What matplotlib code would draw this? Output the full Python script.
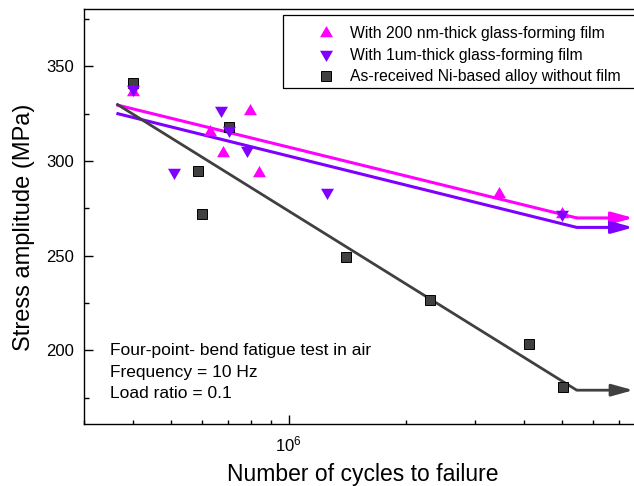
import matplotlib
matplotlib.use('Agg')
import matplotlib.pyplot as plt
from matplotlib.ticker import LogLocator, MultipleLocator, NullFormatter
from matplotlib.patches import Rectangle

# =======================
# data
# =======================
cycles_200nm = [4.0e5, 6.3e5, 6.8e5, 7.95e5, 8.4e5, 3.45e6, 5.0e6]
stress_200nm = [336.5, 315.4, 304.4, 326.5, 293.5, 282.4, 271.8]

cycles_1um = [4.0e5, 5.1e5, 6.7e5, 7.05e5, 7.85e5, 1.25e6, 5.0e6]
stress_1um = [337.8, 294.4, 327.0, 316.5, 305.5, 283.6, 272.1]

cycles_bare = [4.0e5, 5.87e5, 6.02e5, 7.04e5, 1.40e6, 2.30e6, 4.12e6, 5.02e6]
stress_bare = [341.0, 294.9, 272.0, 318.1, 249.1, 226.6, 203.6, 180.6]

# fitted lines (start, knee) and the run-out arrow end
fit_cycles = [3.63e5, 5.45e6]
fit_200nm = [329.6, 269.9]
fit_1um = [325.1, 264.9]
fit_bare = [330.1, 179.0]
runout_end = 7.6e6

labels = ['With 200 nm-thick glass-forming film',
          'With 1um-thick glass-forming film',
          'As-received Ni-based alloy without film']
notes = ['Four-point- bend fatigue test in air',
         'Frequency = 10 Hz',
         'Load ratio = 0.1']

MAGENTA = '#FF00FF'
PURPLE = '#8000FF'
DARK = '#404040'

W, H = 634, 486


def fig_xy(px, py):
    # pixel position -> figure fraction
    return px / W, 1 - py / H


# =======================
# figure
# =======================
plt.rcParams['font.family'] = ['Liberation Sans', 'DejaVu Sans']

fig = plt.figure(figsize=(W / 100, H / 100), dpi=100)
ax = fig.add_axes([84 / W, 1 - 424.3 / H, 558 / W, 415 / H])

# fit lines with run-out arrows
for ys, c, lw in [(fit_200nm, MAGENTA, 2.2), (fit_1um, PURPLE, 2.2), (fit_bare, DARK, 2.0)]:
    ax.plot(fit_cycles, ys, color=c, lw=lw, zorder=2, solid_capstyle='butt')
    ax.annotate('', xy=(runout_end, ys[-1]), xytext=(fit_cycles[-1], ys[-1]),
                arrowprops=dict(arrowstyle='-|>,head_length=1.3,head_width=0.36',
                                mutation_scale=10, color=c, lw=lw,
                                shrinkA=0, shrinkB=0), zorder=2)

# data points
ax.plot(cycles_bare, stress_bare, ls='none', marker='s', ms=6.8,
        mfc=DARK, mec='black', mew=0.7, zorder=3, label=labels[2])
ax.plot(cycles_200nm, stress_200nm, ls='none', marker=(3, 0, 0), ms=10.8,
        mfc=MAGENTA, mec=MAGENTA, mew=0, zorder=4, label=labels[0])
ax.plot(cycles_1um, stress_1um, ls='none', marker=(3, 0, 180), ms=10.8,
        mfc=PURPLE, mec=PURPLE, mew=0, zorder=5, label=labels[1])

# axes
ax.set_xscale('log')
ax.set_xlim(3e5, 8e6)
ax.set_ylim(161, 380)
ax.xaxis.set_major_locator(LogLocator(base=10, numticks=10))
ax.xaxis.set_minor_locator(LogLocator(base=10, subs=range(2, 10), numticks=20))
ax.xaxis.set_minor_formatter(NullFormatter())
ax.yaxis.set_major_locator(MultipleLocator(50))
ax.yaxis.set_minor_locator(MultipleLocator(25))

ax.tick_params(which='both', direction='in', top=False, right=False, width=1.0)
ax.tick_params(which='major', length=6.5, labelsize=12, pad=7)
ax.tick_params(axis='x', which='minor', length=3)
ax.tick_params(axis='y', which='minor', length=3.8)
for s in ax.spines.values():
    s.set_linewidth(1.0)

ax.set_xlabel('Number of cycles to failure', fontsize=16.5, va='center')
ax.xaxis.set_label_coords(0.5, -0.122)
ax.set_ylabel('Stress amplitude (MPa)', fontsize=17, va='center')
ax.yaxis.set_label_coords(-0.108, 0.475)

# notes
for txt, py in zip(notes, [351, 372.3, 393.7]):
    fx, fy = fig_xy(110, py)
    fig.text(fx, fy, txt, fontsize=12.5, ha='left', va='center')

# legend (box runs past the right edge like the original)
handles, labs = ax.get_legend_handles_labels()
order = [1, 2, 0]
ax.legend([handles[i] for i in order], [labs[i] for i in order],
          loc='upper left', bbox_to_anchor=fig_xy(310.7, 26),
          bbox_transform=fig.transFigure, frameon=False, fontsize=11.3,
          handlelength=2, handletextpad=0.5, borderpad=0, borderaxespad=0,
          labelspacing=0.42, numpoints=1)
x0, y0 = fig_xy(282.5, 87.7)
fig.add_artist(Rectangle((x0, y0), 0.7, 72.7 / H, transform=fig.transFigure,
                         fill=False, ec='black', lw=0.9, clip_on=False))

fig.savefig('out.png', dpi=100)
